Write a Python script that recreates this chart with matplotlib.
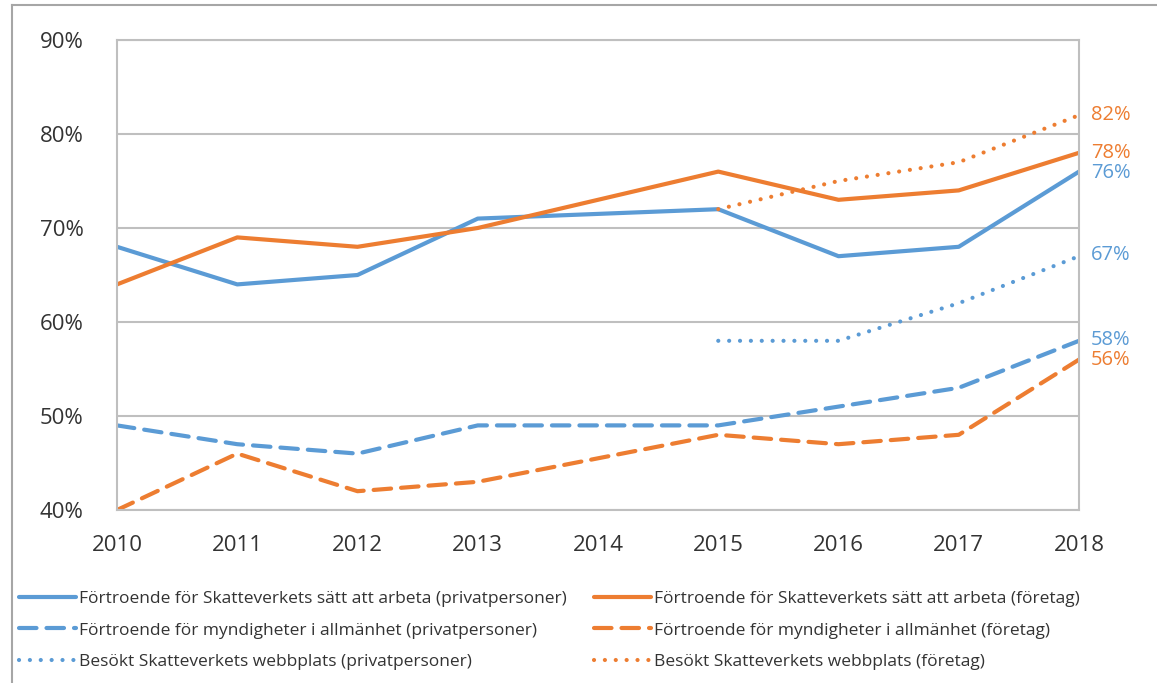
import numpy as np
import matplotlib.pyplot as plt
from matplotlib.lines import Line2D

plt.rcParams['font.family'] = ['Open Sans', 'DejaVu Sans']

years = [2010, 2011, 2012, 2013, 2014, 2015, 2016, 2017, 2018]

# None = no value that year (line is drawn straight across)
sv_priv = [68, 64, 65, 71, None, 72, 67, 68, 76]
sv_ftg = [64, 69, 68, 70, 73, 76, 73, 74, 78]
myn_priv = [49, 47, 46, 49, 49, 49, 51, 53, 58]
myn_ftg = [40, 46, 42, 43, None, 48, 47, 48, 56]
web_priv = [None, None, None, None, None, 58, 58, 62, 67]
web_ftg = [None, None, None, None, None, 72, 75, 77, 82]

labels = [
    "Förtroende för Skatteverkets sätt att arbeta (privatpersoner)",
    "Förtroende för Skatteverkets sätt att arbeta (företag)",
    "Förtroende för myndigheter i allmänhet (privatpersoner)",
    "Förtroende för myndigheter i allmänhet (företag)",
    "Besökt Skatteverkets webbplats (privatpersoner)",
    "Besökt Skatteverkets webbplats (företag)",
]

blue = "#5B9BD5"
orange = "#ED7D31"
txt = "#333333"

fig = plt.figure(figsize=(11.57, 6.83), dpi=100)
ax = fig.add_axes([117 / 1157, 1 - 510 / 683, 962 / 1157, 470 / 683])


def xy(vals):
    pts = [(y, v) for y, v in zip(years, vals) if v is not None]
    return [p[0] for p in pts], [p[1] for p in pts]


series = [
    (sv_priv, blue, "solid"),
    (sv_ftg, orange, "solid"),
    (myn_priv, blue, "dashed"),
    (myn_ftg, orange, "dashed"),
    (web_priv, blue, "dotted"),
    (web_ftg, orange, "dotted"),
]

handles = []
for (vals, col, style), lab in zip(series, labels):
    x, y = xy(vals)
    if style == "solid":
        ln, = ax.plot(x, y, color=col, lw=3, solid_capstyle="round", label=lab)
    elif style == "dashed":
        ln, = ax.plot(x, y, color=col, lw=3, dashes=(4.2, 2.4),
                      dash_capstyle="round", label=lab)
    else:
        ln, = ax.plot(x, y, color=col, lw=3, dashes=(0.01, 2.6),
                      dash_capstyle="round", label=lab)
    handles.append(ln)

# end labels
end_vals = [82, 78, 76, 67, 58, 56]
end_pix = [115, 153, 173, 255, 340, 360]
end_cols = [orange, orange, blue, blue, blue, orange]
for v, ypix, c in zip(end_vals, end_pix, end_cols):
    fig.text(1091 / 1157, 1 - ypix / 683, f"{v}%", color=c, fontsize=14.5,
             va="center", ha="left")

ax.set_xlim(2010, 2018)
ax.set_ylim(40, 90)
ax.set_xticks(years)
ax.set_yticks(range(40, 91, 10))
ax.set_yticklabels([f"{v}%" for v in range(40, 91, 10)])
ax.grid(axis="y", color="#bfbfbf", lw=1.5)
ax.set_axisbelow(True)
for s in ax.spines.values():
    s.set_color("#bfbfbf")
    s.set_linewidth(1.5)
ax.tick_params(length=0, labelsize=16, colors=txt)
ax.tick_params(axis="x", pad=18)
ax.tick_params(axis="y", pad=24)

# legend: two columns, privatpersoner left, företag right
for idx, xpix in [([0, 2, 4], 12), ([1, 3, 5], 587)]:
    fig.legend([handles[i] for i in idx], [labels[i] for i in idx],
               loc="upper left", bbox_to_anchor=(xpix / 1157, 1 - 584 / 683),
               frameon=False, fontsize=12.5, handlelength=3.3, handletextpad=0.15,
               labelspacing=0.88, labelcolor=txt, borderaxespad=0)

# outer frame of the chart area
fig.add_artist(Line2D([12 / 1157, 1], [1 - 5 / 683, 1 - 5 / 683],
                      transform=fig.transFigure, color="#a6a6a6", lw=1.5))
fig.add_artist(Line2D([12 / 1157, 12 / 1157], [0, 1 - 5 / 683],
                      transform=fig.transFigure, color="#a6a6a6", lw=1.5))

fig.savefig("out.png", dpi=100)
